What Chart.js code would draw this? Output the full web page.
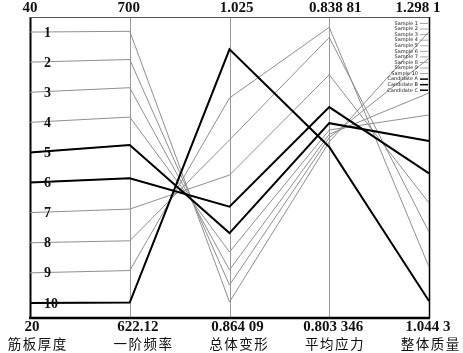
<!DOCTYPE html>
<html>
<head>
<meta charset="utf-8">
<script src="https://cdn.jsdelivr.net/npm/chart.js@4/dist/chart.umd.min.js"></script>
<style>
html,body{margin:0;padding:0;background:#fff;}
canvas{display:block;}
</style>
</head>
<body>
<canvas id="c" width="463" height="353"></canvas>
<script>
// ---- data ----
const axisNames = ['筋板厚度', '一阶频率', '总体变形', '平均应力', '整体质量'];
const axisMin = [20, 622.12, 0.86409, 0.803346, 1.0443];
const axisMax = [40, 700, 1.025, 0.83881, 1.2981];
const axisMinLabels = ['20', '622.12', '0.864 09', '0.803 346', '1.044 3'];
const axisMaxLabels = ['40', '700', '1.025', '0.838 81', '1.298 1'];

const sampleNames = ['Sample 1','Sample 2','Sample 3','Sample 4','Sample 5','Sample 6','Sample 7','Sample 8','Sample 9','Sample 10'];
const thickness   = [39, 37, 35, 33, 31, 29, 27, 25, 23, 21];
const frequency   = [696.3, 689.0, 681.7, 674.1, 666.9, 658.3, 650.3, 642.1, 634.4, 626.1];
const deformation = [0.8727, 0.8817, 0.8898, 0.8994, 0.9095, 0.9236, 0.9405, 0.9593, 0.9817, 1.0077];
const stress      = [0.8241, 0.8246, 0.8250, 0.8255, 0.8263, 0.8282, 0.8320, 0.8364, 0.8376, 0.8235];
const mass        = [1.2857, 1.2633, 1.2340, 1.2155, 1.1935, 1.1663, 1.1413, 1.1168, 1.0873, 1.0586];

const candidateNames = ['Candidate A', 'Candidate B', 'Candidate C'];
const candidateIndex = [4, 5, 9];

// ---- build ----
const variables = [thickness, frequency, deformation, stress, mass];
function norm(v, k) { return (v - axisMin[k]) / (axisMax[k] - axisMin[k]); }
function rowOf(i) { return variables.map((arr, k) => norm(arr[i], k)); }

const GRAY = '#8f8f8f';
const datasets = [];
sampleNames.forEach((name, i) => {
  datasets.push({ label: name, data: rowOf(i), borderColor: GRAY, borderWidth: 1, order: 2 });
});
candidateNames.forEach((name, j) => {
  datasets.push({ label: name, data: rowOf(candidateIndex[j]), borderColor: '#000', borderWidth: 2, order: 1 });
});

const SERIF = '"Liberation Serif", "Times New Roman", serif';
const CJK = '"Noto Sans CJK SC", sans-serif';

const pcPlugin = {
  id: 'pc',
  beforeDatasetsDraw(chart) {
    const ctx = chart.ctx, xs = chart.scales.x, ca = chart.chartArea;
    ctx.save();
    for (let k = 0; k < axisNames.length; k++) {
      const x = Math.round(xs.getPixelForValue(k)) + 0.5;
      const edge = (k === 0 || k === axisNames.length - 1);
      ctx.strokeStyle = edge ? '#000' : '#999';
      ctx.lineWidth = k === 0 ? 2 : (edge ? 1.5 : 1);
      ctx.beginPath();
      ctx.moveTo(x, ca.top);
      ctx.lineTo(x, ca.bottom);
      ctx.stroke();
    }
    // top frame line
    ctx.strokeStyle = '#555';
    ctx.lineWidth = 1;
    ctx.beginPath();
    ctx.moveTo(ca.left, ca.top + 0.5);
    ctx.lineTo(ca.right, ca.top + 0.5);
    ctx.stroke();
    // bottom line
    ctx.strokeStyle = '#000';
    ctx.lineWidth = 2.5;
    ctx.beginPath();
    ctx.moveTo(ca.left - 1, ca.bottom);
    ctx.lineTo(ca.right + 1, ca.bottom);
    ctx.stroke();
    ctx.restore();
  },
  afterDraw(chart) {
    const ctx = chart.ctx, xs = chart.scales.x, ys = chart.scales.y, ca = chart.chartArea;
    const topOff = [0, -1, 7, 6, -11];
    const botOff = [2, 8, 8, 4, -1];
    const titOff = [7, 13, 9, 5, 1];
    ctx.save();
    ctx.fillStyle = '#111';
    ctx.textBaseline = 'middle';
    ctx.textAlign = 'center';
    ctx.font = 'bold 15px ' + SERIF;
    for (let k = 0; k < axisNames.length; k++) {
      const x = xs.getPixelForValue(k);
      ctx.fillText(axisMaxLabels[k], x + topOff[k], ca.top - 9);
      ctx.fillText(axisMinLabels[k], x + botOff[k], ca.bottom + 9);
    }
    ctx.font = '13.5px ' + CJK;
    for (let k = 0; k < axisNames.length; k++) {
      const cx = xs.getPixelForValue(k) + titOff[k];
      const chars = Array.from(axisNames[k]);
      const step = 15;
      chars.forEach((ch, n) => {
        ctx.fillText(ch, cx + (n - (chars.length - 1) / 2) * step, ca.bottom + 26);
      });
    }
    // sample numbers on first axis
    ctx.font = 'bold 14px ' + SERIF;
    ctx.textAlign = 'left';
    const x0 = xs.getPixelForValue(0);
    thickness.forEach((v, i) => {
      const y = ys.getPixelForValue(norm(v, 0));
      ctx.fillText(String(i + 1), x0 + 14, y + 1);
    });
    // legend
    const names = sampleNames.concat(candidateNames);
    const lx = xs.getPixelForValue(axisNames.length - 1);
    ctx.font = '5px ' + '"DejaVu Sans", sans-serif';
    ctx.textAlign = 'right';
    names.forEach((name, i) => {
      const y = ca.top + 6.5 + i * 5.56;
      ctx.fillStyle = '#222';
      ctx.fillText(name, lx - 11, y);
      const isCand = i >= sampleNames.length;
      ctx.strokeStyle = isCand ? '#000' : GRAY;
      ctx.lineWidth = isCand ? 1.5 : 0.8;
      ctx.beginPath();
      ctx.moveTo(lx - 9, y);
      ctx.lineTo(lx - 1, y);
      ctx.stroke();
    });
    ctx.restore();
  }
};

new Chart(document.getElementById('c'), {
  type: 'line',
  data: { labels: axisNames, datasets: datasets },
  options: {
    responsive: false,
    animation: false,
    layout: { padding: { left: 30, right: 34, top: 17, bottom: 35 } },
    elements: { point: { radius: 0, hoverRadius: 0 }, line: { tension: 0 } },
    scales: {
      x: { display: false, offset: false },
      y: { display: false, min: 0, max: 1 }
    },
    plugins: { legend: { display: false }, tooltip: { enabled: false } }
  },
  plugins: [pcPlugin]
});
</script>
</body>
</html>
